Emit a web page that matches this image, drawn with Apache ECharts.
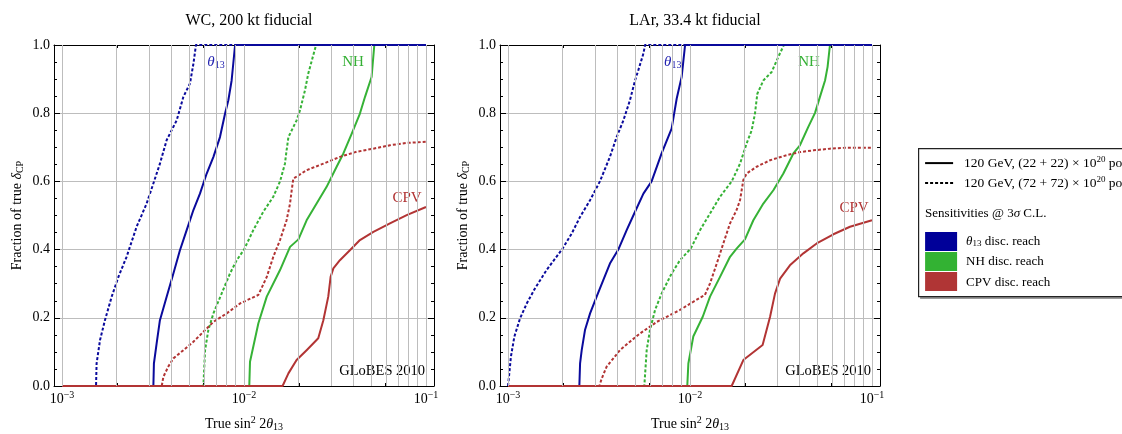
<!DOCTYPE html>
<html>
<head>
<meta charset="utf-8">
<script src="https://cdn.jsdelivr.net/npm/echarts@6/dist/echarts.min.js"></script>
<style>
  html, body { margin: 0; padding: 0; background: #fff; }
  #chart { width: 1122px; height: 434px; }
</style>
</head>
<body>
<div id="chart"></div>
<script>
// x values are log10(true sin^2 2θ13); y values are the fraction of true δCP.

// WC, 200 kt fiducial
const wcTh13SolidX = [-3, -2.498, -2.495, -2.480, -2.462, -2.425, -2.388, -2.352, -2.315, -2.278, -2.242, -2.205, -2.168, -2.132, -2.104, -2.086, -2.068, -2.059, -2.049, -1];
const wcTh13SolidY = [0, 0, 0.066, 0.125, 0.193, 0.262, 0.330, 0.398, 0.457, 0.516, 0.564, 0.623, 0.672, 0.730, 0.799, 0.838, 0.896, 0.945, 1, 1];
const wcTh13DotX = [-3, -2.813, -2.810, -2.791, -2.764, -2.727, -2.690, -2.645, -2.590, -2.535, -2.498, -2.462, -2.425, -2.370, -2.333, -2.297, -2.278, -2.264, -1];
const wcTh13DotY = [0, 0, 0.066, 0.135, 0.193, 0.262, 0.320, 0.379, 0.467, 0.535, 0.594, 0.652, 0.721, 0.779, 0.848, 0.887, 0.945, 1, 1];
const wcNhSolidX = [-3, -1.971, -1.967, -1.921, -1.875, -1.802, -1.747, -1.701, -1.656, -1.601, -1.546, -1.491, -1.454, -1.408, -1.363, -1.335, -1.299, -1.284, -1];
const wcNhSolidY = [0, 0, 0.071, 0.184, 0.262, 0.340, 0.408, 0.430, 0.486, 0.535, 0.584, 0.643, 0.682, 0.740, 0.799, 0.848, 0.906, 1, 1];
const wcNhDotX = [-3, -2.223, -2.214, -2.196, -2.168, -2.123, -2.077, -2.040, -2.000, -1.949, -1.894, -1.839, -1.802, -1.775, -1.766, -1.756, -1.711, -1.692, -1.665, -1.647, -1.604, -1];
const wcNhDotY = [0, 0, 0.105, 0.164, 0.213, 0.271, 0.330, 0.369, 0.400, 0.457, 0.511, 0.555, 0.600, 0.652, 0.691, 0.730, 0.779, 0.809, 0.867, 0.916, 1, 1];
const wcCpvSolidX = [-3, -1.788, -1.756, -1.711, -1.656, -1.592, -1.564, -1.537, -1.524, -1.509, -1.473, -1.418, -1.363, -1.289, -1.198, -1.106, -1.0];
const wcCpvSolidY = [0, 0, 0.037, 0.076, 0.105, 0.140, 0.193, 0.262, 0.320, 0.345, 0.369, 0.398, 0.428, 0.452, 0.477, 0.501, 0.525];
const wcCpvDotX = [-3, -2.452, -2.443, -2.416, -2.388, -2.333, -2.278, -2.223, -2.168, -2.095, -2.022, -1.921, -1.875, -1.839, -1.802, -1.766, -1.747, -1.738, -1.729, -1.656, -1.564, -1.473, -1.381, -1.289, -1.198, -1.106, -1.0];
const wcCpvDotY = [0, 0, 0.027, 0.057, 0.081, 0.105, 0.130, 0.159, 0.188, 0.213, 0.242, 0.267, 0.320, 0.379, 0.428, 0.486, 0.535, 0.574, 0.608, 0.633, 0.652, 0.672, 0.687, 0.696, 0.706, 0.713, 0.716];

// LAr, 33.4 kt fiducial
const larTh13SolidX = [-3, -2.608, -2.604, -2.595, -2.577, -2.549, -2.513, -2.476, -2.440, -2.394, -2.348, -2.302, -2.256, -2.211, -2.156, -2.101, -2.073, -2.046, -2.027, -1];
const larTh13SolidY = [0, 0, 0.066, 0.105, 0.164, 0.213, 0.262, 0.311, 0.359, 0.400, 0.457, 0.511, 0.564, 0.600, 0.682, 0.755, 0.843, 0.906, 1, 1];
const larTh13DotX = [-3, -2.995, -2.993, -2.984, -2.965, -2.934, -2.897, -2.852, -2.788, -2.700, -2.650, -2.604, -2.549, -2.495, -2.440, -2.403, -2.366, -2.330, -2.302, -2.284, -2.256, -2.247, -1];
const larTh13DotY = [0, 0, 0.037, 0.086, 0.145, 0.198, 0.242, 0.286, 0.340, 0.403, 0.447, 0.496, 0.545, 0.600, 0.672, 0.730, 0.779, 0.838, 0.896, 0.926, 0.975, 1, 1];
const larNhSolidX = [-3, -2.015, -2.009, -1.982, -1.930, -1.890, -1.835, -1.780, -1.744, -1.698, -1.652, -1.597, -1.542, -1.487, -1.432, -1.396, -1.350, -1.313, -1.286, -1.258, -1.244, -1.231, -1];
const larNhSolidY = [0, 0, 0.066, 0.145, 0.203, 0.262, 0.320, 0.379, 0.403, 0.430, 0.486, 0.535, 0.574, 0.623, 0.682, 0.706, 0.760, 0.801, 0.848, 0.896, 0.936, 1, 1];
const larNhDotX = [-3, -2.251, -2.238, -2.220, -2.192, -2.156, -2.101, -2.055, -1.996, -1.945, -1.890, -1.835, -1.771, -1.725, -1.689, -1.661, -1.643, -1.630, -1.597, -1.551, -1.515, -1.484, -1];
const larNhDotY = [0, 0, 0.105, 0.164, 0.223, 0.271, 0.330, 0.369, 0.403, 0.457, 0.506, 0.555, 0.600, 0.652, 0.711, 0.750, 0.799, 0.857, 0.896, 0.921, 0.965, 1, 1];
const larCpvSolidX = [-3, -1.771, -1.707, -1.601, -1.560, -1.533, -1.505, -1.451, -1.377, -1.304, -1.212, -1.121, -1.0];
const larCpvSolidY = [0, 0, 0.076, 0.120, 0.203, 0.271, 0.315, 0.354, 0.389, 0.418, 0.445, 0.467, 0.486];
const larCpvDotX = [-3, -2.498, -2.485, -2.458, -2.421, -2.385, -2.330, -2.275, -2.220, -2.183, -2.128, -2.055, -1.982, -1.918, -1.890, -1.853, -1.817, -1.780, -1.744, -1.725, -1.707, -1.689, -1.634, -1.560, -1.469, -1.396, -1.322, -1.231, -1.139, -1.0];
const larCpvDotY = [0, 0, 0.022, 0.057, 0.081, 0.105, 0.130, 0.154, 0.174, 0.188, 0.203, 0.223, 0.247, 0.267, 0.301, 0.359, 0.418, 0.477, 0.516, 0.545, 0.604, 0.623, 0.643, 0.662, 0.677, 0.686, 0.691, 0.696, 0.699, 0.699];

// Axis ticks (log10 exponents) and labels
const xMajorExponents = [-3, -2, -1];
const yTickValues = [0, 0.2, 0.4, 0.6, 0.8, 1.0];
const panelTitles = ['WC, 200 kt fiducial', 'LAr, 33.4 kt fiducial'];

const FONT = "'Liberation Serif', 'DejaVu Serif', serif";
const BLUE = '#0a0a9c';
const GREEN = '#36b236';
const RED = '#b23434';
const GRID_GRAY = '#bdbdbd';
const DOTS = [3, 2];

const X_MIN = -3.044, X_MAX = -0.956;

// decade sub-divisions for the logarithmic grid and minor ticks
const xMinor = [];
const xGridLines = [];
for (let n = -3; n <= -2; n++) {
  for (let k = 1; k <= 9; k++) {
    const v = n + Math.log10(k);
    xGridLines.push(v);
    if (k > 1) xMinor.push(v);
  }
}
xGridLines.push(-1);

const zip = (xs, ys) => xs.map((x, i) => [x, ys[i]]);

const panels = [
  {
    left: 54,
    curves: [
      { x: wcNhSolidX, y: wcNhSolidY, color: GREEN, dash: 'solid' },
      { x: wcNhDotX, y: wcNhDotY, color: GREEN, dash: DOTS },
      { x: wcTh13SolidX, y: wcTh13SolidY, color: BLUE, dash: 'solid' },
      { x: wcTh13DotX, y: wcTh13DotY, color: BLUE, dash: DOTS },
      { x: wcCpvSolidX, y: wcCpvSolidY, color: RED, dash: 'solid' },
      { x: wcCpvDotX, y: wcCpvDotY, color: RED, dash: DOTS }
    ],
    notes: [
      { at: [-2.154, 0.949], kind: 'th13' },
      { at: [-1.401, 0.949], kind: 'nh' },
      { at: [-1.104, 0.551], kind: 'cpv' },
      { at: [-1.005, 0.042], kind: 'globes' }
    ]
  },
  {
    left: 500,
    curves: [
      { x: larNhSolidX, y: larNhSolidY, color: GREEN, dash: 'solid' },
      { x: larNhDotX, y: larNhDotY, color: GREEN, dash: DOTS },
      { x: larTh13SolidX, y: larTh13SolidY, color: BLUE, dash: 'solid' },
      { x: larTh13DotX, y: larTh13DotY, color: BLUE, dash: DOTS },
      { x: larCpvSolidX, y: larCpvSolidY, color: RED, dash: 'solid' },
      { x: larCpvDotX, y: larCpvDotY, color: RED, dash: DOTS }
    ],
    notes: [
      { at: [-2.095, 0.949], kind: 'th13' },
      { at: [-1.346, 0.949], kind: 'nh' },
      { at: [-1.099, 0.522], kind: 'cpv' },
      { at: [-1.005, 0.042], kind: 'globes' }
    ]
  }
];

const noteStyles = {
  th13: { text: '{i|θ}{s|13}', color: '#2323b0', align: 'center', size: 15 },
  nh: { text: 'NH', color: '#34b034', align: 'center', size: 15 },
  cpv: { text: 'CPV', color: '#b03333', align: 'center', size: 15 },
  globes: { text: 'GLoBES 2010', color: '#000', align: 'right', size: 14.5 }
};

const grids = [], xAxes = [], yAxes = [], series = [], titles = [];

panels.forEach((p, gi) => {
  grids.push({ left: p.left, top: 45, width: 380, height: 341, containLabel: false, outerBoundsMode: 'none' });

  titles.push({
    text: panelTitles[gi],
    left: p.left + 190,
    top: 8,
    textAlign: 'center',
    textStyle: { fontFamily: FONT, fontSize: 16, fontWeight: 'normal', color: '#000' }
  });

  const base = { type: 'value', gridIndex: gi, min: X_MIN, max: X_MAX, splitLine: { show: false } };
  // bottom frame with decade labels
  xAxes.push(Object.assign({}, base, {
    position: 'bottom',
    axisLine: { show: true, lineStyle: { color: '#000', width: 1 } },
    axisTick: { show: true, inside: true, length: 6, customValues: xMajorExponents, lineStyle: { color: '#000' } },
    axisLabel: {
      show: true,
      customValues: xMajorExponents,
      margin: 4,
      formatter: v => '{b|10}{s|−' + Math.abs(Math.round(v)) + '}',
      rich: {
        b: { fontFamily: FONT, fontSize: 14, color: '#000' },
        s: { fontFamily: FONT, fontSize: 10, color: '#000', padding: [0, 0, 8, 0] }
      }
    },
    name: 'True sin{sup|2} 2{it|θ}{sub|13}',
    nameLocation: 'middle',
    nameGap: 29,
    nameTextStyle: {
      fontFamily: FONT, fontSize: 14, color: '#000',
      rich: {
        sup: { fontFamily: FONT, fontSize: 10, color: '#000', padding: [0, 0, 8, 0] },
        it: { fontFamily: FONT, fontSize: 14, color: '#000', fontStyle: 'italic' },
        sub: { fontFamily: FONT, fontSize: 10, color: '#000', padding: [6, 0, 0, 0] }
      }
    }
  }));
  // bottom minor ticks
  xAxes.push(Object.assign({}, base, {
    position: 'bottom',
    axisLine: { show: false },
    axisTick: { show: true, inside: true, length: 3, customValues: xMinor, lineStyle: { color: '#000' } },
    axisLabel: { show: false }
  }));
  // top frame
  xAxes.push(Object.assign({}, base, {
    position: 'top',
    axisLine: { show: true, lineStyle: { color: '#000', width: 1 } },
    axisTick: { show: true, inside: true, length: 6, customValues: xMajorExponents, lineStyle: { color: '#000' } },
    axisLabel: { show: false }
  }));
  xAxes.push(Object.assign({}, base, {
    position: 'top',
    axisLine: { show: false },
    axisTick: { show: true, inside: true, length: 3, customValues: xMinor, lineStyle: { color: '#000' } },
    axisLabel: { show: false }
  }));

  const ybase = { type: 'value', gridIndex: gi, min: 0, max: 1, interval: 0.2 };
  yAxes.push(Object.assign({}, ybase, {
    position: 'left',
    axisLine: { show: true, lineStyle: { color: '#000', width: 1 } },
    axisTick: { show: true, inside: true, length: 6, lineStyle: { color: '#000' } },
    minorTick: { show: true, splitNumber: 4, length: 3, lineStyle: { color: '#000' } },
    axisLabel: {
      show: true, margin: 4,
      customValues: yTickValues,
      formatter: v => v.toFixed(1),
      fontFamily: FONT, fontSize: 14, color: '#000'
    },
    splitLine: { show: true, lineStyle: { color: GRID_GRAY, width: 1 } },
    name: 'Fraction of true {it|δ}{sub|CP}',
    nameLocation: 'middle',
    nameRotate: 90,
    nameGap: 29,
    nameTextStyle: {
      fontFamily: FONT, fontSize: 14, color: '#000',
      rich: {
        it: { fontFamily: FONT, fontSize: 14, color: '#000', fontStyle: 'italic' },
        sub: { fontFamily: FONT, fontSize: 10, color: '#000', padding: [6, 0, 0, 0] }
      }
    }
  }));
  yAxes.push(Object.assign({}, ybase, {
    position: 'right',
    axisLine: { show: true, lineStyle: { color: '#000', width: 1 } },
    axisTick: { show: true, inside: true, length: 6, lineStyle: { color: '#000' } },
    minorTick: { show: true, splitNumber: 4, length: 3, lineStyle: { color: '#000' } },
    axisLabel: { show: false },
    splitLine: { show: false }
  }));

  const xi = gi * 4, yi = gi * 2;

  // logarithmic vertical grid
  series.push({
    type: 'line',
    xAxisIndex: xi, yAxisIndex: yi,
    data: [],
    silent: true,
    z: 1,
    markLine: {
      silent: true,
      symbol: ['none', 'none'],
      label: { show: false },
      lineStyle: { color: GRID_GRAY, width: 1, type: 'solid' },
      emphasis: { disabled: true },
      animation: false,
      data: xGridLines.map(v => ({ xAxis: v }))
    }
  });

  p.curves.forEach(c => {
    series.push({
      type: 'line',
      xAxisIndex: xi, yAxisIndex: yi,
      data: zip(c.x, c.y),
      showSymbol: false,
      clip: false,
      silent: true,
      z: 3,
      lineStyle: { color: c.color, width: 2, type: c.dash, cap: 'butt', join: 'round' }
    });
  });

  // curve names and credit line inside the plot
  series.push({
    type: 'custom',
    xAxisIndex: xi, yAxisIndex: yi,
    silent: true,
    z: 4,
    clip: false,
    data: p.notes.map(n => [n.at[0], n.at[1], n.kind]),
    encode: { x: 0, y: 1 },
    renderItem: (params, api) => {
      const kind = p.notes[params.dataIndex].kind;
      const st = noteStyles[kind];
      const pt = api.coord([api.value(0), api.value(1)]);
      return {
        type: 'text',
        x: pt[0], y: pt[1],
        style: {
          text: st.text,
          fill: st.color,
          fontFamily: FONT,
          fontSize: st.size,
          align: st.align,
          verticalAlign: 'middle',
          rich: {
            i: { fontFamily: FONT, fontSize: 15, fontStyle: 'italic', fill: st.color },
            s: { fontFamily: FONT, fontSize: 10, fill: st.color, padding: [6, 0, 0, 0] }
          }
        }
      };
    }
  });
});

// Legend box at the right
const LF = 13;
const legend = {
  type: 'group',
  left: 918, top: 148,
  children: [
    { type: 'rect', shape: { x: 2, y: 2, width: 230, height: 149 }, style: { fill: '#9a9a9a' }, z: 9 },
    { type: 'rect', shape: { x: 0.5, y: 0.5, width: 230, height: 148 }, style: { fill: '#fff', stroke: '#222', lineWidth: 1.2 }, z: 10 },
    { type: 'line', shape: { x1: 7, y1: 15, x2: 35, y2: 15 }, style: { stroke: '#000', lineWidth: 2 }, z: 11 },
    { type: 'line', shape: { x1: 7, y1: 35, x2: 35, y2: 35 }, style: { stroke: '#000', lineWidth: 2, lineDash: [3, 2] }, z: 11 },
    { type: 'text', x: 46, y: 15, z: 11, style: {
      text: '120 GeV, (22 + 22) × 10{s|20} pot', fontFamily: FONT, fontSize: 13.5, fill: '#000', verticalAlign: 'middle',
      rich: { s: { fontFamily: FONT, fontSize: 9, fill: '#000', padding: [0, 0, 7, 0] } } } },
    { type: 'text', x: 46, y: 35, z: 11, style: {
      text: '120 GeV, (72 + 72) × 10{s|20} pot', fontFamily: FONT, fontSize: 13.5, fill: '#000', verticalAlign: 'middle',
      rich: { s: { fontFamily: FONT, fontSize: 9, fill: '#000', padding: [0, 0, 7, 0] } } } },
    { type: 'text', x: 7, y: 65, z: 11, style: {
      text: 'Sensitivities @ 3{i|σ} C.L.', fontFamily: FONT, fontSize: LF, fill: '#000', verticalAlign: 'middle',
      rich: { i: { fontFamily: FONT, fontSize: LF, fontStyle: 'italic', fill: '#000' } } } },
    { type: 'rect', shape: { x: 7, y: 84, width: 32, height: 19 }, style: { fill: '#000099' }, z: 11 },
    { type: 'rect', shape: { x: 7, y: 104, width: 32, height: 19 }, style: { fill: '#33b233' }, z: 11 },
    { type: 'rect', shape: { x: 7, y: 124, width: 32, height: 19 }, style: { fill: '#b03535' }, z: 11 },
    { type: 'text', x: 48, y: 93, z: 11, style: {
      text: '{i|θ}{s|13} disc. reach', fontFamily: FONT, fontSize: LF, fill: '#000', verticalAlign: 'middle',
      rich: {
        i: { fontFamily: FONT, fontSize: LF, fontStyle: 'italic', fill: '#000' },
        s: { fontFamily: FONT, fontSize: 9, fill: '#000', padding: [5, 0, 0, 0] }
      } } },
    { type: 'text', x: 48, y: 113, z: 11, style: { text: 'NH disc. reach', fontFamily: FONT, fontSize: LF, fill: '#000', verticalAlign: 'middle' } },
    { type: 'text', x: 48, y: 134, z: 11, style: { text: 'CPV disc. reach', fontFamily: FONT, fontSize: LF, fill: '#000', verticalAlign: 'middle' } }
  ]
};

const chart = echarts.init(document.getElementById('chart'), null, { renderer: 'canvas' });
chart.setOption({
  animation: false,
  backgroundColor: '#fff',
  title: titles,
  grid: grids,
  xAxis: xAxes,
  yAxis: yAxes,
  series: series,
  graphic: [legend]
});
</script>
</body>
</html>
